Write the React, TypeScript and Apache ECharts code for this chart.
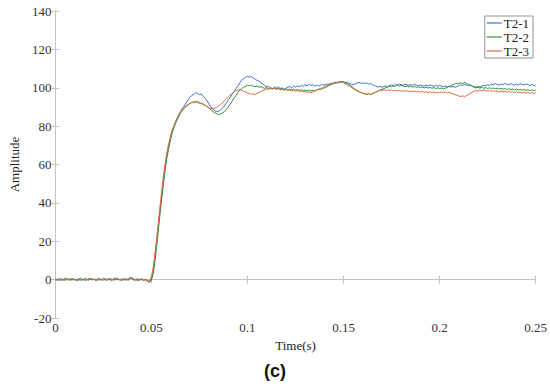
import React, { useEffect, useRef } from "react";
import * as echarts from "echarts";

const timeStep = 0.001;
const seriesNames = ["T2-1", "T2-2", "T2-3"];
const xTicks = [0, 0.05, 0.1, 0.15, 0.2, 0.25];
const yTicks = [-20, 0, 20, 40, 60, 80, 100, 120, 140];

const t21 = [
  0.3,-0.4,0.6,0.1,-0.5,0.8,0.2,-0.3,0.5,-0.1,0.4,-0.6,0.2,0.7,-0.2,0.1,-0.5,0.3,0.6,-0.1,
  0.2,-0.4,0.5,0.0,-0.3,0.7,0.1,-0.2,0.4,-0.5,0.3,0.9,-0.1,0.2,-0.4,0.6,0.0,-0.3,0.5,1.2,
  0.4,-0.2,0.3,-0.6,0.1,0.5,-0.3,0.2,-0.5,-1.2,
  0.3,5,13,22,32,41,50,58,65,70,
  74.5,78,80.5,83,85.5,87.5,89,90.5,92,93.5,
  95,96,96.5,97.5,97,96.5,96.8,95.5,94.5,93,
  91.5,90,89,88,87.5,87.8,88.5,89.5,90.5,92,
  93.5,95,96.5,98,99.5,101,102.5,104,104.8,105.5,
  106,105.5,105.8,105,104.5,103.8,103.5,102.5,102,101,
  100.5,100.8,100,99.5,100.2,99.8,100.5,99.6,100,99.2,
  99.8,100.3,100.6,99.9,100.8,100.4,101,100.5,101.3,100.7,
  101.5,101,101.8,101.2,101.6,100.9,101.4,100.8,101.2,101.7,
  101.3,102,101.6,102.3,102,102.6,102.3,103,102.7,103.3,
  103,102.6,102.9,102.2,101.8,101.5,102,102.4,102.8,102.3,
  102.6,102.1,102.5,101.9,102.3,101.6,101.2,100.8,100.4,100.7,
  100.2,100.6,101,100.5,101.2,101.5,101.1,101.8,101.4,102,
  101.6,101.3,101.9,101.5,101.2,101.7,101.3,101.8,101.2,100.9,
  101.4,101.1,100.8,101.3,100.9,101.5,101.1,100.7,101.2,100.8,
  101.3,100.9,100.5,100.9,100.4,100.8,100.3,100.7,100.2,100.6,
  101.1,101.6,101.2,101.8,101.4,101,101.5,100.9,100.6,100.2,
  100.7,100.4,100.9,101.3,101,101.6,101.2,101.9,101.5,102.1,
  101.7,101.4,102,101.6,102.2,101.8,101.5,102.1,101.7,101.3,
  101.9,101.5,102.1,101.8,101.4,102,101.6,101.2,101.7,101.3,
  100.9
];

const t22 = [
  -0.2,0.4,-0.6,0.3,0.1,-0.4,0.5,-0.2,0.2,0.6,-0.3,0.1,-0.5,0.4,0.0,-0.2,0.7,-0.4,0.2,0.5,
  -0.1,0.3,-0.6,0.4,0.1,-0.3,0.6,-0.2,0.0,0.5,-0.4,0.2,0.8,-0.1,0.3,-0.5,0.4,0.1,-0.3,0.6,
  1.0,0.2,-0.4,0.3,-0.1,0.4,-0.5,0.1,-0.8,-1.4,
  -0.2,3.5,11,20,30,39,48,56,63,68.5,
  73,77,80,82.5,84.5,86.5,88,89.3,90.2,91,
  91.8,92.3,92.8,92.5,92.9,92.2,91.8,91.5,90.8,90.2,
  89.3,88.5,87.6,87,86.4,86.1,86.3,86.8,87.6,88.7,
  90,91.5,93,94.5,96,97.5,98.7,99.6,100.3,100.8,
  101.3,101,101.4,100.8,100.5,100.9,100.3,100.6,100,99.7,
  100.1,99.6,99.9,99.4,99.8,99.3,99.7,99.1,99.5,99,
  99.4,98.9,99.3,98.8,99.2,98.7,99.1,98.6,99,98.5,
  98.9,98.4,98.8,98.3,98.7,98.4,98.9,99.3,99,99.6,
  99.9,100.4,100.9,101.4,101.9,102.3,102.8,102.5,103.1,102.8,
  103.2,102.6,102.2,101.5,100.8,100,99.2,98.6,98,97.5,
  97.1,96.8,96.5,96.9,96.4,96.8,97.3,97.8,98.3,98.8,
  99.2,99.6,100,100.4,100.8,100.5,101,100.7,101.2,100.8,
  101.3,100.9,100.5,100.9,100.4,100.8,100.3,100.7,100.2,100.5,
  100,100.4,99.9,100.3,99.8,100.2,99.7,100.1,99.6,100,
  99.5,99.9,99.4,99.8,100.2,100.7,101.1,101.6,102,102.4,
  102.1,102.6,102.2,102.8,102.3,101.8,101.3,100.8,100.3,99.9,
  100.3,99.8,100.2,99.7,100.1,99.6,100,99.5,99.9,99.4,
  99.8,99.3,99.7,99.2,99.6,99.1,99.5,99,99.4,98.9,
  99.3,98.8,99.2,98.7,99.1,98.6,99,98.5,98.9,98.4,
  98.8
];

const t23 = [
  0.1,-0.3,0.5,-0.5,0.2,0.4,-0.2,0.6,-0.4,0.0,0.3,-0.1,0.5,-0.6,0.2,0.4,-0.3,0.1,0.6,-0.2,
  0.3,-0.5,0.1,0.7,-0.2,0.4,-0.4,0.2,0.5,-0.1,0.2,-0.3,0.6,0.1,-0.5,0.3,0.0,0.5,-0.2,0.8,
  0.3,-0.4,0.2,0.5,-0.3,0.1,-0.6,-0.2,-0.9,-0.6,
  1.5,7,15,24,34,43,52,59.5,66,71,
  75,78.5,81,83.5,85.5,87.2,88.5,89.7,90.6,91.3,
  91.9,92.4,92.1,92.6,92.3,91.8,91.9,91.2,90.8,90.1,
  89.6,89.2,89,89.3,89.8,90.5,91.4,92.3,93.2,94.2,
  95.2,96.2,97,97.8,98.4,98.8,99.1,98.7,98.2,97.8,
  97.3,97,96.6,96.9,96.5,97,97.6,98.1,98.6,99,
  99.4,99.1,99.6,99.3,99.7,99.2,99.5,98.9,99.3,98.8,
  99.1,98.6,98.9,98.4,98.7,98.2,98.5,98,98.3,97.8,
  98.1,97.6,97.9,97.4,97.8,98.2,98.7,99.1,99.6,100,
  100.5,101,101.4,101.9,102.3,102.7,103,102.6,103.2,102.9,
  102.5,102,101.4,100.8,100.2,99.6,99,98.4,97.9,97.5,
  97.2,97,96.6,96.9,96.5,97,97.4,97.9,98.3,98.7,
  98.4,98.9,98.5,99,98.6,98.9,98.4,98.8,98.3,98.7,
  98.2,98.6,98.1,98.5,98,98.4,97.9,98.3,97.8,98.2,
  97.7,98.1,97.6,98,97.5,97.9,97.4,97.8,97.3,97.7,
  97.5,97.9,97.4,97.8,97.3,97.6,97.1,96.8,96.4,96.1,
  95.7,95.4,95.8,95.3,95.9,96.5,97.1,97.6,98.2,98.6,
  98.3,98.8,98.4,98.9,98.5,98.2,98.6,98.1,98.5,98,
  98.4,97.9,98.3,97.8,98.2,97.7,98.1,97.6,98,97.5,
  97.9,97.4,97.8,97.3,97.7,97.2,97.6,97.1,97.5,97,
  97.4
];

const seriesValues = [t21, t22, t23];
const seriesColors = ["#3f72c8", "#3a8c3a", "#e06a3c"];

const FONT = "'Liberation Serif', 'Times New Roman', serif";

export default function App() {
  const ref = useRef<HTMLDivElement>(null);
  useEffect(() => {
    if (!ref.current) return;
    const chart = echarts.init(ref.current, null, { renderer: "svg" });
    const toPairs = (arr: number[]) =>
      arr.map((v, i) => [Number((i * timeStep).toFixed(3)), v]);
    const axisLineStyle = { color: "#c4c4c4", width: 1 };
    const labelStyle = { color: "#333", fontFamily: FONT, fontSize: 13 };
    chart.setOption({
      animation: false,
      grid: { left: 44, right: 14, top: 11, bottom: 70, containLabel: false },
      legend: {
        orient: "vertical",
        right: 17,
        top: 16,
        icon: "rect",
        itemWidth: 15,
        itemHeight: 1.2,
        itemGap: 0,
        padding: [0, 4, 0, 2],
        backgroundColor: "#fff",
        borderColor: "#777",
        borderWidth: 0.8,
        textStyle: { color: "#222", fontFamily: FONT, fontSize: 13, padding: [0, 0, 0, -3], lineHeight: 14 },
        data: seriesNames,
      },
      xAxis: [
        {
          type: "value",
          min: xTicks[0],
          max: xTicks[xTicks.length - 1],
          interval: 0.05,
          name: "Time(s)",
          nameLocation: "middle",
          nameGap: 18,
          nameTextStyle: { color: "#222", fontFamily: FONT, fontSize: 13 },
          axisLine: { show: true, lineStyle: axisLineStyle },
          axisTick: { show: true, inside: true, length: 4, lineStyle: axisLineStyle },
          axisLabel: { ...labelStyle, margin: 3, formatter: (v: number) => String(Number(v.toFixed(2))) },
          splitLine: { show: false },
        },
        {
          type: "value",
          position: "top",
          min: xTicks[0],
          max: xTicks[xTicks.length - 1],
          interval: 0.05,
          axisLine: { show: true, lineStyle: axisLineStyle },
          axisTick: { show: true, inside: true, length: 4, lineStyle: axisLineStyle },
          axisLabel: { show: false },
          splitLine: { show: false },
        },
      ],
      yAxis: [
        {
          type: "value",
          min: yTicks[0],
          max: yTicks[yTicks.length - 1],
          interval: 20,
          name: "Amplitude",
          nameLocation: "middle",
          nameGap: 30,
          nameTextStyle: { color: "#222", fontFamily: FONT, fontSize: 13 },
          axisLine: { show: true, lineStyle: axisLineStyle },
          axisTick: { show: true, inside: true, length: 4, lineStyle: axisLineStyle },
          axisLabel: { ...labelStyle, margin: 4 },
          splitLine: { show: false },
        },
        {
          type: "value",
          position: "right",
          min: yTicks[0],
          max: yTicks[yTicks.length - 1],
          interval: 20,
          axisLine: { show: true, lineStyle: axisLineStyle },
          axisTick: { show: true, inside: true, length: 4, lineStyle: axisLineStyle },
          axisLabel: { show: false },
          splitLine: { show: false },
        },
      ],
      graphic: [
        {
          type: "text",
          left: "center",
          top: 362,
          style: {
            text: "(c)",
            fontFamily: "'Liberation Sans', sans-serif",
            fontWeight: "bold",
            fontSize: 18,
            fill: "#111",
          },
        },
      ],
      series: seriesNames.map((name, i) => ({
        name,
        type: "line",
        data: toPairs(seriesValues[i]),
        symbol: "none",
        showSymbol: false,
        lineStyle: { color: seriesColors[i], width: 1 },
        itemStyle: { color: seriesColors[i] },
        emphasis: { disabled: true },
      })),
    });
    return () => chart.dispose();
  }, []);
  return <div ref={ref} style={{ width: 550, height: 388, position: "absolute", left: 0, top: 0 }} />;
}
